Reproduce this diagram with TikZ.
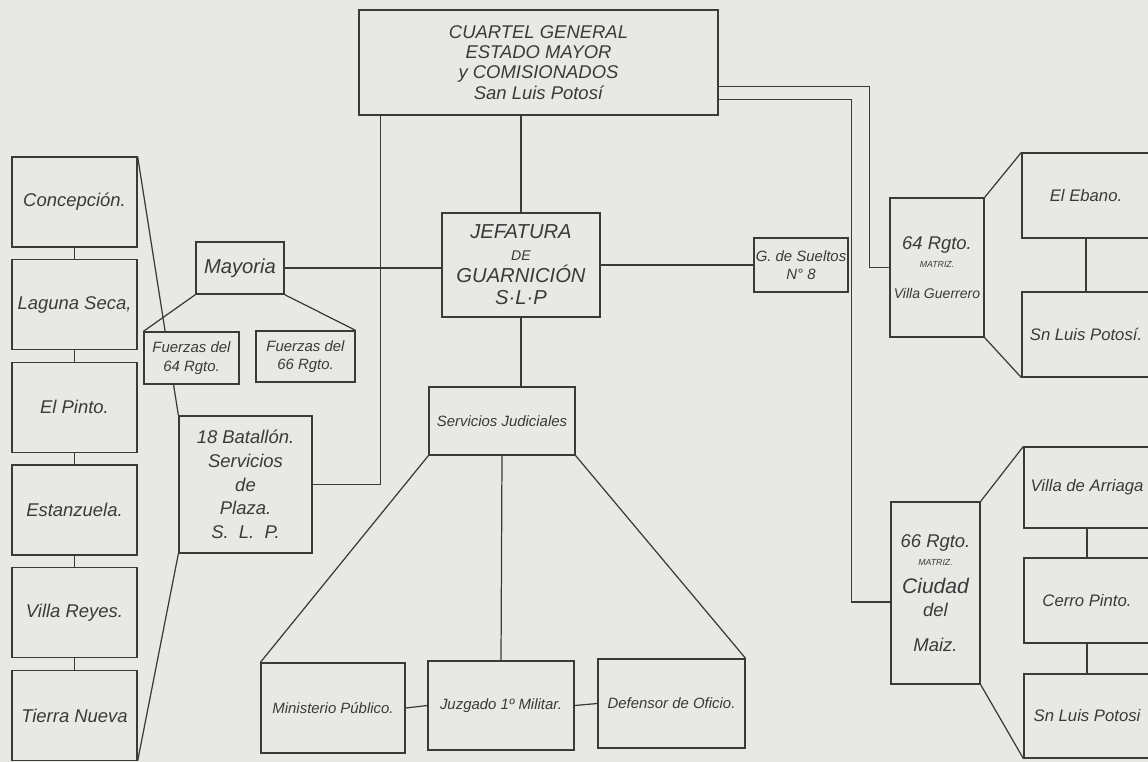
\documentclass[tikz,border=0pt]{standalone}
\usepackage{fontspec}
\setmainfont{Liberation Sans}
\usepackage{tikz}
\definecolor{paper}{HTML}{E8E8E5}
\definecolor{ink}{HTML}{3A3A3A}

\begin{document}
\begin{tikzpicture}[x=0.2mm, y=-0.2mm, color=ink, line width=0.7pt,
        box/.style={draw, fill=paper, align=center, inner sep=1pt},
        sm/.style={font=\itshape\fontsize{8.5}{10.5}\selectfont},
        rt/.style={font=\itshape\fontsize{9.5}{11.5}\selectfont},
        md/.style={font=\itshape\fontsize{10.5}{13.5}\selectfont},
        lg/.style={font=\itshape\fontsize{11.5}{12.5}\selectfont}
        ]
        \fill[paper] (0,0) rectangle (1148,762);
        \useasboundingbox (0,0) rectangle (1148,762);
        \clip (0,0) rectangle (1148,762);

        \node[box, md, minimum width=71.8mm, minimum height=21mm] (cuartel) at (538.5,62.5)
          {CUARTEL GENERAL\\[-2pt]ESTADO MAYOR\\[-2pt]y COMISIONADOS\\[-2pt]San Luis Potosí};
        \node[box, lg, minimum width=31.6mm, minimum height=20.8mm] (jefatura) at (521,265)
          {JEFATURA\\{\footnotesize DE}\\GUARNICIÓN\\S·L·P};
        \draw (jefatura.north) -- (jefatura.north |- cuartel.south);

        \foreach \i/\txt in {0/Concepción., 1/{Laguna Seca,}, 2/El Pinto., 3/Estanzuela., 4/Villa Reyes., 5/Tierra Nueva}
          \node[box, md, minimum width=25mm, minimum height=18mm] (l\i) at (74.5,202+\i*102.7) {\txt};
        \foreach \i [count=\j] in {0,...,4}
          \draw (l\i.south) -- (l\j.north);

        \node[box, md, minimum width=26.6mm, minimum height=27.4mm] (batallon) at (245.5,484.5)
          {18 Batallón.\\Servicios\\de\\Plaza.\\S.~~L.~~P.};
        \draw (l0.north east) -- (batallon.north west);
        \draw (batallon.south west) -- (l5.south east);
        \draw ([xshift=4.4mm]cuartel.south west) |- (batallon.east);

        \node[box, lg, minimum width=17.6mm, minimum height=10.4mm] (mayoria) at (240,268) {Mayoria};
        \node[box, sm, minimum width=19mm, minimum height=10.4mm] (fza64) at (191.5,358) {Fuerzas del\\64 Rgto.};
        \node[box, sm, minimum width=19.8mm, minimum height=10.2mm] (fza66) at (305.5,356.5) {Fuerzas del\\66 Rgto.};
        \draw (mayoria.south west) -- (fza64.north west);
        \draw (mayoria.south east) -- (fza66.north east);
        \draw (mayoria.east) -- (mayoria.east -| jefatura.west);

        \node[box, sm, minimum width=18mm, minimum height=10.8mm] (sueltos) at (801,265) {G. de Sueltos\\N° 8};
        \draw (jefatura.east) -- (sueltos.west);

        \node[box, md, minimum width=18.8mm, minimum height=27.8mm] (rgto64) at (937,267.5)
          {64 Rgto.\\[-3pt]{\tiny MATRIZ.}\\[4pt]{\footnotesize Villa Guerrero}};
        \node[box, rt, minimum width=25.6mm, minimum height=17mm] (ebano) at (1086,195.5) {El Ebano.};
        \node[box, rt, minimum width=25.6mm, minimum height=17mm] (slp1) at (1086,334.5) {Sn Luis Potosí.};
        \draw (ebano.south) -- (slp1.north);
        \draw (rgto64.north east) -- (ebano.north west);
        \draw (rgto64.south east) -- (slp1.south west);
        \draw ([yshift=-15.4mm]cuartel.north east) -| ([xshift=-4mm]rgto64.west) -- (rgto64.west);

        \node[box, md, minimum width=17.8mm, minimum height=36.4mm] (rgto66) at (935.5,593)
          {66 Rgto.\\[-3pt]{\tiny MATRIZ.}\\[2pt]{\large Ciudad}\\del\\[6pt]Maiz.};
        \node[box, rt, minimum width=25.2mm, minimum height=16.2mm] (arriaga) at (1087,487.5) {Villa de Arriaga};
        \node[box, rt, minimum width=25.2mm, minimum height=17mm] (cerro) at (1087,600.5) {Cerro Pinto.};
        \node[box, rt, minimum width=25.2mm, minimum height=16.8mm] (slp2) at (1087,716) {Sn Luis Potosi};
        \draw (arriaga.south) -- (cerro.north);
        \draw (cerro.south) -- (slp2.north);
        \draw (rgto66.north east) -- (arriaga.north west);
        \draw (rgto66.south east) -- (slp2.south west);
        \draw ([yshift=-18mm]cuartel.north east) -| ([xshift=-7.8mm, yshift=-1.8mm]rgto66.west) -- ([yshift=-1.8mm]rgto66.west);

        \node[box, sm, minimum width=29.2mm, minimum height=13.6mm] (judiciales) at (502,421) {Servicios Judiciales};
        \draw (jefatura.south) -- (jefatura.south |- judiciales.north);
        \node[box, sm, minimum width=28.8mm, minimum height=18mm] (ministerio) at (333,708) {Ministerio Público.};
        \node[box, sm, minimum width=29.2mm, minimum height=17.8mm] (juzgado) at (501,705.5) {Juzgado 1º Militar.};
        \node[box, sm, minimum width=29.4mm, minimum height=17.8mm] (defensor) at (671.5,703.5) {Defensor de Oficio.};
        \draw (judiciales.south west) -- (ministerio.north west);
        \draw (judiciales.south) -- (juzgado.north);
        \draw (judiciales.south east) -- (defensor.north east);
        \draw (ministerio.east) -- (juzgado.west);
        \draw (juzgado.east) -- (defensor.west);
\end{tikzpicture}
\end{document}
